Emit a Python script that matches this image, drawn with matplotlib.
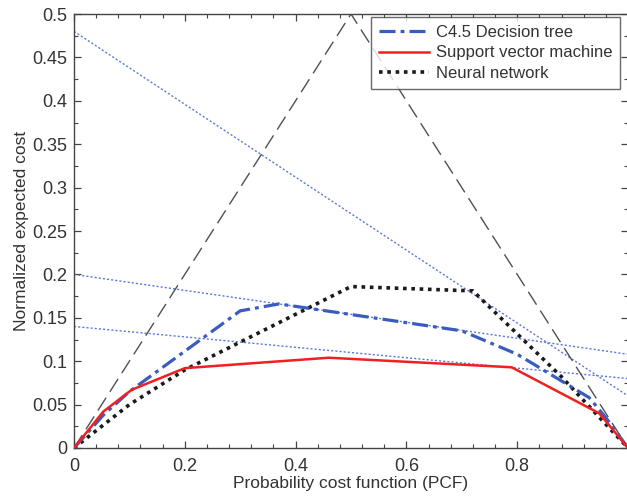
import matplotlib
matplotlib.use("Agg")
import matplotlib.pyplot as plt
from matplotlib.ticker import MultipleLocator

plt.rcParams['font.family'] = ['Liberation Sans', 'DejaVu Sans']

# Cost curves: probability cost function vs normalized expected cost
dt_x = [0.0, 0.053, 0.10, 0.30, 0.37, 0.70, 0.80, 0.93, 0.96, 1.0]
dt_y = [0.0, 0.038, 0.065, 0.158, 0.166, 0.135, 0.108, 0.058, 0.035, 0.0]

svm_x = [0.0, 0.053, 0.104, 0.20, 0.46, 0.79, 0.948, 1.0]
svm_y = [0.0, 0.042, 0.067, 0.092, 0.104, 0.093, 0.040, 0.0]

nn_x = [0.0, 0.10, 0.20, 0.50, 0.72, 0.88, 1.0]
nn_y = [0.0, 0.050, 0.090, 0.186, 0.181, 0.082, 0.0]

# Trivial classifiers (always positive / always negative)
triv_x = [0.0, 0.5, 1.0]
triv_y = [0.0, 0.5, 0.0]

# Individual operating-point cost lines: (cost at PCF=0, cost at PCF=1)
cost_lines = [(0.48, 0.06), (0.20, 0.108), (0.14, 0.080)]

xticks = [0, 0.2, 0.4, 0.6, 0.8]
yticks = [0, 0.05, 0.1, 0.15, 0.2, 0.25, 0.3, 0.35, 0.4, 0.45, 0.5]

fig = plt.figure(figsize=(6.27, 4.97), dpi=100)
ax = fig.add_axes([74 / 627, 49 / 497, 554 / 627, 434 / 497])

for c0, c1 in cost_lines:
    ax.plot([0, 1], [c0, c1], color='#5a78d6', lw=1.0,
            linestyle=(0, (1.5, 1.5)), zorder=2)

ax.plot(triv_x, triv_y, color='#505050', lw=1.0,
        linestyle=(0, (11, 5)), zorder=2)

ax.plot(dt_x, dt_y, color='#3a5cc0', lw=2.3,
        linestyle=(0, (5, 1.6, 1.2, 1.6)), label='C4.5 Decision tree', zorder=4)
ax.plot(svm_x, svm_y, color='#f02020', lw=1.8,
        label='Support vector machine', zorder=5)
ax.plot(nn_x, nn_y, color='#1a1a1a', lw=2.6,
        linestyle=(0, (1, 1.3)), label='Neural network', zorder=3)

ax.set_xlim(0, 1)
ax.set_ylim(0, 0.5)
ax.set_xticks(xticks)
ax.set_xticklabels([f'{t:g}' for t in xticks])
ax.set_yticks(yticks)
ax.set_yticklabels([f'{t:g}' for t in yticks])
ax.xaxis.set_minor_locator(MultipleLocator(0.04))
ax.yaxis.set_minor_locator(MultipleLocator(0.025))
ax.tick_params(which='both', direction='in', top=True, right=True,
               colors='#444444', labelcolor='#333333', labelsize=13)
ax.tick_params(which='major', length=5, width=0.9)
ax.tick_params(which='minor', length=3, width=0.8)
ax.tick_params(axis='x', pad=7)
ax.tick_params(axis='y', pad=5)
for s in ax.spines.values():
    s.set_color('#444444')
    s.set_linewidth(1.0)

ax.set_xlabel('Probability cost function (PCF)', fontsize=12.5, color='#333333', labelpad=1)
ax.set_ylabel('Normalized expected cost', fontsize=12.5, color='#333333', labelpad=2)

leg = ax.legend(loc='upper right', bbox_to_anchor=(0.986, 0.993), fontsize=12,
                frameon=True, fancybox=False, handlelength=3.0,
                borderpad=0.45, labelspacing=0.35, handletextpad=0.45,
                borderaxespad=0.0)
leg.get_frame().set_edgecolor('#444444')
leg.get_frame().set_linewidth(1.0)
for t in leg.get_texts():
    t.set_color('#333333')

fig.savefig('out.png', dpi=100)
